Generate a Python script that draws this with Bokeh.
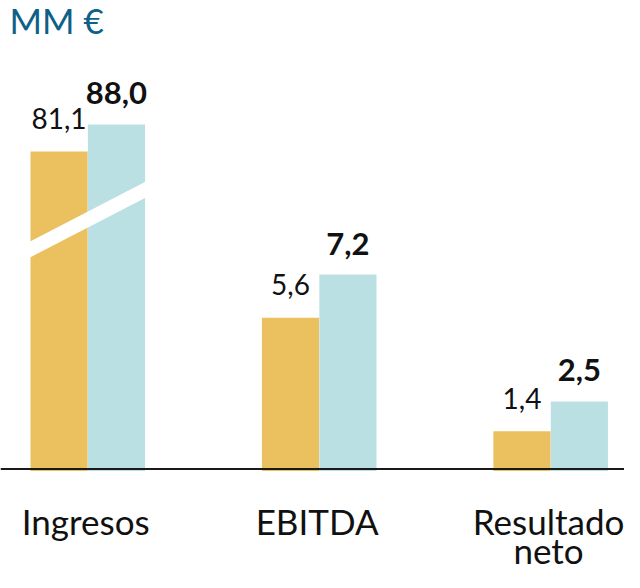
from bokeh.plotting import figure
from bokeh.models import ColumnDataSource, FactorRange, Span, Label
from bokeh.transform import dodge
from bokeh.core.properties import value
from bokeh.embed import file_html
from bokeh.resources import INLINE

# ---- data ----
categories = ["Ingresos", "EBITDA", "Resultado neto"]
prev_values = [81.1, 5.6, 1.4]
curr_values = [88.0, 7.2, 2.5]
unit_title = "MM €"

# the reference draws "Ingresos" on a broken (compressed) axis
broken_scale = {"Ingresos": 0.145}

GOLD = "#EBC15F"
BLUE = "#BBE0E3"
TITLE_BLUE = "#0D6087"
TEXT = "#111111"
FONT = "Lato"


def fmt(v):
    return f"{v:.1f}".replace(".", ",")


def disp(cat, v):
    return v * broken_scale.get(cat, 1.0)


line1 = [c.split(" ", 1)[0] for c in categories]
line2 = [c.split(" ", 1)[1] if " " in c else "" for c in categories]

source = ColumnDataSource(dict(
    cat=categories,
    prev=[disp(c, v) for c, v in zip(categories, prev_values)],
    curr=[disp(c, v) for c, v in zip(categories, curr_values)],
    prev_lbl=[fmt(v) for v in prev_values],
    curr_lbl=[fmt(v) for v in curr_values],
    line1=line1,
    line2=line2,
    zero=[0] * len(categories),
))

W, H = 624, 572
x_range = FactorRange(*categories, range_padding=-0.152, range_padding_units="absolute")

p = figure(width=W, height=H, x_range=x_range, y_range=(-3.833, 17.35),
           output_backend="svg", toolbar_location=None,
           x_axis_location=None, y_axis_location=None,
           min_border=0, outline_line_color=None, background_fill_color="white")
p.xgrid.grid_line_color = None
p.ygrid.grid_line_color = None

SHIFT = 0.029      # whole group layout nudged right
LSHIFT = 0.02      # category labels
OFF = 0.124
BW = 0.247
p.vbar(x=dodge("cat", SHIFT - OFF, range=x_range), top="prev", bottom=-0.07, width=BW,
       source=source, fill_color=GOLD, line_color=None)
p.vbar(x=dodge("cat", SHIFT + OFF, range=x_range), top="curr", bottom=-0.07, width=BW,
       source=source, fill_color=BLUE, line_color=None)

# axis-break band across the compressed group
bc = categories.index("Ingresos") + 0.5 + SHIFT
half = 0.27
yc, slope, thick = 9.235, 4.43, 0.59
xs = [bc - half, bc + half, bc + half, bc - half]
ys = [yc - slope * half - thick / 2, yc + slope * half - thick / 2,
      yc + slope * half + thick / 2, yc - slope * half + thick / 2]
p.patch(xs, ys, fill_color="white", line_color=None)

# value labels
p.text(x=dodge("cat", SHIFT - OFF, range=x_range), y="prev", text="prev_lbl", source=source,
       text_font=value(FONT), text_font_size=value("28px"), text_color=TEXT,
       text_align="center", text_baseline="alphabetic", y_offset=-33)
p.text(x=dodge("cat", SHIFT + OFF, range=x_range), y="curr", text="curr_lbl", source=source,
       text_font=value(FONT), text_font_size=value("31px"), text_font_style="bold",
       text_color=TEXT, text_align="center", text_baseline="alphabetic", y_offset=-31)

# category labels
p.text(x=dodge("cat", LSHIFT, range=x_range), y="zero", text="line1", source=source,
       text_font=value(FONT), text_font_size=value("35px"), text_color=TEXT,
       text_align="center", text_baseline="alphabetic", y_offset=52)
p.text(x=dodge("cat", LSHIFT, range=x_range), y="zero", text="line2", source=source,
       text_font=value(FONT), text_font_size=value("35px"), text_color=TEXT,
       text_align="center", text_baseline="alphabetic", y_offset=81)

# baseline
p.add_layout(Span(location=0, dimension="width", line_color="#1a1a1a", line_width=2))

# unit title
p.add_layout(Label(x=9, y=H - 33.3 + 14, x_units="screen", y_units="screen", text=unit_title,
                   text_font=FONT, text_font_size="35px", text_color=TITLE_BLUE,
                   text_baseline="alphabetic"))

open("out.html", "w").write(file_html(p, INLINE))
